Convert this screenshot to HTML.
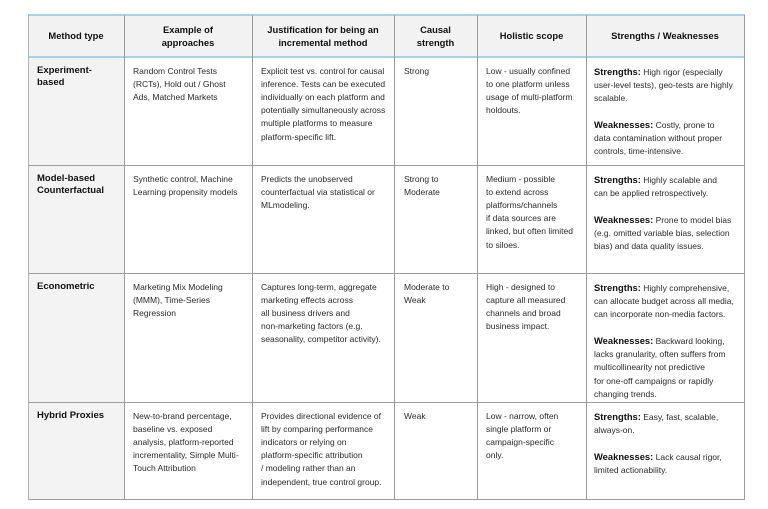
<!DOCTYPE html>
<html>
<head>
<meta charset="utf-8">
<style>
  html,body{margin:0;padding:0;background:#fff;}
  body{width:768px;height:509px;position:relative;overflow:hidden;
       font-family:"Liberation Sans",Arial,sans-serif;color:#2b2b2b;}
  .bg{position:absolute;}
  .h{position:absolute;background:#9c9c9c;height:1px;}
  .v{position:absolute;background:#9c9c9c;width:1px;}
  .blue{position:absolute;background:#a6d3ea;height:2px;}
  .c{position:absolute;font-size:8.5px;line-height:13.2px;white-space:nowrap;padding-top:7.5px;}
  .c b{font-size:9.4px;color:#111;}
  .m{position:absolute;font-size:9.5px;font-weight:bold;line-height:12.4px;white-space:nowrap;color:#111;padding-top:7.5px;}
  .hd{position:absolute;font-size:9.4px;font-weight:bold;line-height:12.6px;text-align:center;color:#111;display:flex;align-items:center;justify-content:center;top:16px;height:41px;}
  .gap{height:12.8px;}
</style>
</head>
<body>
<!-- backgrounds -->
<div class="bg" style="left:28px;top:15px;width:716px;height:42px;background:#f2f2f2;"></div>
<div class="bg" style="left:28px;top:57px;width:96px;height:442px;background:#f3f3f3;"></div>

<!-- horizontal lines -->
<div class="blue" style="left:28px;top:14px;width:717px;"></div>
<div class="blue" style="left:28px;top:56px;width:717px;"></div>
<div class="h" style="left:28px;top:165px;width:717px;"></div>
<div class="h" style="left:28px;top:273px;width:717px;"></div>
<div class="h" style="left:28px;top:402px;width:717px;"></div>
<div class="h" style="left:28px;top:499px;width:717px;"></div>

<!-- vertical lines -->
<div class="v" style="left:28px;top:15px;height:485px;background:#b5b5b5;"></div>
<div class="v" style="left:124px;top:15px;height:485px;"></div>
<div class="v" style="left:252px;top:15px;height:485px;"></div>
<div class="v" style="left:394px;top:15px;height:485px;"></div>
<div class="v" style="left:477px;top:15px;height:485px;"></div>
<div class="v" style="left:586px;top:15px;height:485px;"></div>
<div class="v" style="left:744px;top:15px;height:485px;"></div>

<!-- header -->
<div class="hd" style="left:28px;width:96px;">Method type</div>
<div class="hd" style="left:124px;width:128px;">Example of<br>approaches</div>
<div class="hd" style="left:252px;width:142px;">Justification for being an<br>incremental method</div>
<div class="hd" style="left:394px;width:83px;">Causal<br>strength</div>
<div class="hd" style="left:477px;width:109px;">Holistic scope</div>
<div class="hd" style="left:586px;width:158px;">Strengths / Weaknesses</div>

<!-- row 1 -->
<div class="m" style="left:37px;top:57px;">Experiment-<br>based</div>
<div class="c" style="left:133px;top:57px;">Random Control Tests<br>(RCTs), Hold out / Ghost<br>Ads, Matched Markets</div>
<div class="c" style="left:261px;top:57px;">Explicit test vs. control for causal<br>inference. Tests can be executed<br>individually on each platform and<br>potentially simultaneously across<br>multiple platforms to measure<br>platform-specific lift.</div>
<div class="c" style="left:404px;top:57px;">Strong</div>
<div class="c" style="left:486px;top:57px;">Low - usually confined<br>to one platform unless<br>usage of multi-platform<br>holdouts.</div>
<div class="c" style="left:594px;top:57px;"><b>Strengths:</b> High rigor (especially<br>user-level tests), geo-tests are highly<br>scalable.<div class="gap"></div><b>Weaknesses:</b> Costly, prone to<br>data contamination without proper<br>controls, time-intensive.</div>

<!-- row 2 -->
<div class="m" style="left:37px;top:165px;">Model-based<br>Counterfactual</div>
<div class="c" style="left:133px;top:165px;">Synthetic control, Machine<br>Learning propensity models</div>
<div class="c" style="left:261px;top:165px;">Predicts the unobserved<br>counterfactual via statistical or<br>MLmodeling.</div>
<div class="c" style="left:404px;top:165px;">Strong to<br>Moderate</div>
<div class="c" style="left:486px;top:165px;">Medium - possible<br>to extend across<br>platforms/channels<br>if data sources are<br>linked, but often limited<br>to siloes.</div>
<div class="c" style="left:594px;top:165px;"><b>Strengths:</b> Highly scalable and<br>can be applied retrospectively.<div class="gap"></div><b>Weaknesses:</b> Prone to model bias<br>(e.g. omitted variable bias, selection<br>bias) and data quality issues.</div>

<!-- row 3 -->
<div class="m" style="left:37px;top:273px;">Econometric</div>
<div class="c" style="left:133px;top:273px;">Marketing Mix Modeling<br>(MMM), Time-Series<br>Regression</div>
<div class="c" style="left:261px;top:273px;">Captures long-term, aggregate<br>marketing effects across<br>all business drivers and<br>non-marketing factors (e.g.<br>seasonality, competitor activity).</div>
<div class="c" style="left:404px;top:273px;">Moderate to<br>Weak</div>
<div class="c" style="left:486px;top:273px;">High - designed to<br>capture all measured<br>channels and broad<br>business impact.</div>
<div class="c" style="left:594px;top:273px;"><b>Strengths:</b> Highly comprehensive,<br>can allocate budget across all media,<br>can incorporate non-media factors.<div class="gap"></div><b>Weaknesses:</b> Backward looking,<br>lacks granularity, often suffers from<br>multicollinearity not predictive<br>for one-off campaigns or rapidly<br>changing trends.</div>

<!-- row 4 -->
<div class="m" style="left:37px;top:402px;">Hybrid Proxies</div>
<div class="c" style="left:133px;top:402px;">New-to-brand percentage,<br>baseline vs. exposed<br>analysis, platform-reported<br>incrementality, Simple Multi-<br>Touch Attribution</div>
<div class="c" style="left:261px;top:402px;">Provides directional evidence of<br>lift by comparing performance<br>indicators or relying on<br>platform-specific attribution<br>/ modeling rather than an<br>independent, true control group.</div>
<div class="c" style="left:404px;top:402px;">Weak</div>
<div class="c" style="left:486px;top:402px;">Low - narrow, often<br>single platform or<br>campaign-specific<br>only.</div>
<div class="c" style="left:594px;top:402px;"><b>Strengths:</b> Easy, fast, scalable,<br>always-on.<div class="gap"></div><b>Weaknesses:</b> Lack causal rigor,<br>limited actionability.</div>
</body>
</html>
